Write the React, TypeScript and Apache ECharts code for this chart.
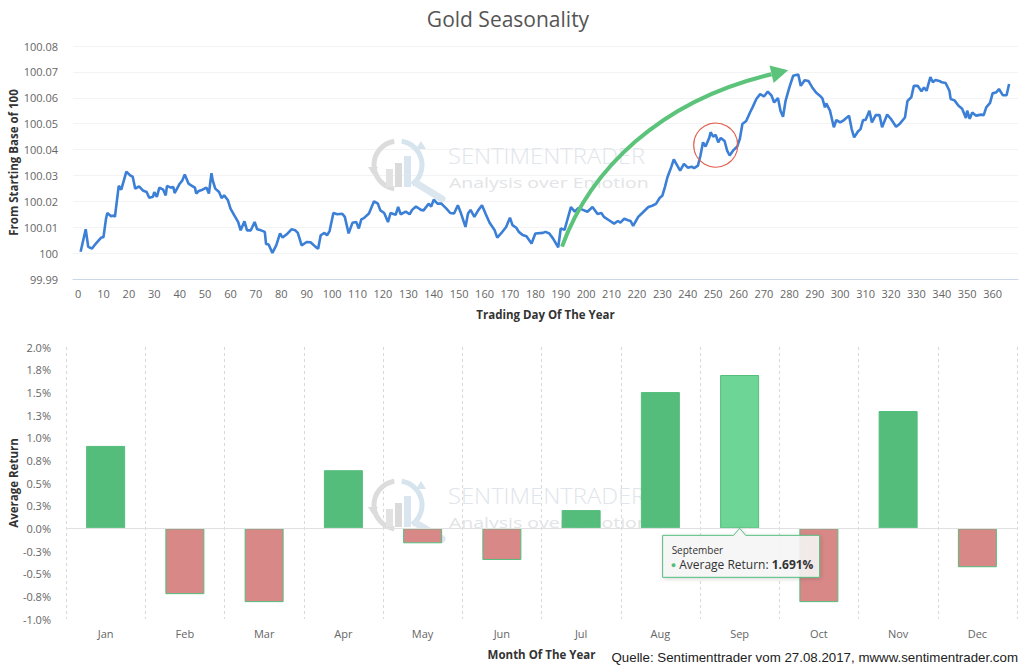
import React, { useEffect, useRef } from "react";
import * as echarts from "echarts";

const chartTitle = "Gold Seasonality";

const tradingDays = [
  1, 3, 4, 5.5, 7, 9, 10, 11, 11.5, 13, 14, 14.5, 16, 17, 19, 20.5, 21.5, 22.5, 24, 25.5,
  27, 28, 29.5, 30, 31, 32, 33.5, 34.5, 35, 36.5, 37.5, 38, 40, 41, 42, 43.5, 44.5, 46, 46.5, 47.5,
  49, 50.5, 51.5, 52.5, 53, 54, 55.5, 56.5, 57.5, 59, 60, 61.5, 63, 64, 65.5, 66.5, 68, 69.5, 70.5, 72,
  73.5, 74, 75, 76.5, 78, 79.5, 80.5, 82.5, 84, 85.5, 86.5, 88, 90, 91.5, 93.5, 94.5, 95.5, 97, 98, 99,
  100.5, 102, 104, 105, 106.5, 108, 109.5, 110.5, 111.5, 112.5, 114.5, 116.5, 118, 119, 120.5, 122, 123, 125, 126, 127,
  129, 130.5, 131.5, 133, 135, 136, 138, 139, 140, 141.5, 143, 145, 146.5, 148, 149.5, 150.5, 152.5, 153.5, 154.5, 156,
  157.5, 159, 160.5, 162, 164, 165, 166.5, 168.5, 170, 171, 172.5, 173.5, 175, 176.5, 178.5, 180, 183, 184, 185.5, 187,
  189, 190, 191.5, 194, 195.5, 197, 198.5, 200.5, 202.5, 204.5, 206, 207, 209, 211, 212.5, 213.5, 215, 216.5, 217.5, 218.5,
  220.5, 222.5, 224.5, 226, 227.5, 229, 230, 231, 232, 233.5, 234.5, 235.5, 237, 238.5, 240, 241.5, 242.5, 244, 245, 246,
  247, 248.5, 249, 250, 251, 252, 253, 254.5, 255.5, 256.5, 258, 259.5, 260.5, 261.5, 263, 264.5, 265.5, 267, 268.5, 270,
  271.5, 273, 274, 275.5, 276.5, 277.5, 278.5, 280, 281.5, 283.5, 284.5, 286, 287.5, 289, 290.5, 292, 293, 294, 294.5, 296,
  297.5, 298.5, 300, 301.5, 303.5, 304.5, 305.5, 307, 308, 309, 310, 311.5, 312.5, 314, 315.5, 316.5, 318.5, 320, 322, 323.5,
  325.5, 326.5, 328, 329, 330.5, 332, 333, 334, 335.5, 336.5, 337.5, 339, 340, 341.5, 343, 343.5, 345, 346.5, 348, 349.5,
  350, 351, 352, 353.5, 355.5, 356.5, 357.5, 359, 360, 361.5, 362.5, 364, 365.5, 366.5,
];

const goldIndex = [
  100.0005, 100.0092, 100.0024, 100.0018, 100.0037, 100.0059, 100.0062, 100.0133, 100.0155, 100.0142, 100.0145, 100.014, 100.026, 100.0245, 100.0315, 100.03, 100.0295, 100.0249, 100.0258, 100.0242,
  100.0236, 100.0214, 100.0218, 100.0236, 100.0217, 100.0253, 100.0245, 100.0223, 100.026, 100.0253, 100.0255, 100.0232, 100.0268, 100.028, 100.0304, 100.0268, 100.0262, 100.0253, 100.023, 100.024,
  100.0245, 100.0253, 100.023, 100.0309, 100.0281, 100.0249, 100.0236, 100.0213, 100.0223, 100.0204, 100.0172, 100.0146, 100.0121, 100.0088, 100.0123, 100.0088, 100.0088, 100.012, 100.0092, 100.0088,
  100.0082, 100.0035, 100.0033, 100.0001, 100.003, 100.0076, 100.006, 100.0076, 100.0092, 100.0088, 100.0078, 100.003, 100.0043, 100.0042, 100.0024, 100.0017, 100.0069, 100.0078, 100.0069, 100.0085,
  100.0155, 100.015, 100.0152, 100.014, 100.0076, 100.0117, 100.012, 100.0095, 100.013, 100.0135, 100.0153, 100.02, 100.0191, 100.0165, 100.0155, 100.012, 100.0155, 100.0148, 100.0178, 100.015,
  100.016, 100.015, 100.0167, 100.018, 100.0167, 100.0165, 100.0191, 100.018, 100.0206, 100.0191, 100.0191, 100.0172, 100.0155, 100.0153, 100.0185, 100.016, 100.0101, 100.0153, 100.0167, 100.014,
  100.0165, 100.0185, 100.015, 100.0117, 100.0088, 100.006, 100.0076, 100.0101, 100.0137, 100.0108, 100.0098, 100.0082, 100.007, 100.0065, 100.0037, 100.0076, 100.0078, 100.0082, 100.0076, 100.0056,
  100.0022, 100.0095, 100.009, 100.0178, 100.016, 100.0175, 100.0168, 100.016, 100.0178, 100.0151, 100.0155, 100.014, 100.0127, 100.0114, 100.0124, 100.0118, 100.0133, 100.0127, 100.0124, 100.0105,
  100.014, 100.0159, 100.0178, 100.0183, 100.019, 100.0214, 100.0222, 100.0255, 100.0293, 100.0332, 100.0362, 100.0345, 100.0319, 100.0345, 100.033, 100.0334, 100.0328, 100.0338, 100.0377, 100.0428,
  100.0412, 100.0447, 100.0467, 100.045, 100.0457, 100.0428, 100.0445, 100.0433, 100.0396, 100.0377, 100.0398, 100.0412, 100.0441, 100.0499, 100.051, 100.0543, 100.0563, 100.0595, 100.0614, 100.0605,
  100.0624, 100.0608, 100.0582, 100.0599, 100.055, 100.0527, 100.0588, 100.064, 100.0685, 100.069, 100.0646, 100.0668, 100.0665, 100.064, 100.062, 100.0608, 100.0598, 100.0563, 100.0578, 100.055,
  100.0486, 100.0514, 100.0505, 100.0514, 100.0531, 100.048, 100.0447, 100.047, 100.0479, 100.0514, 100.0514, 100.055, 100.0505, 100.0533, 100.0533, 100.0486, 100.0535, 100.0518, 100.0488, 100.05,
  100.0524, 100.0588, 100.0602, 100.0646, 100.0646, 100.0625, 100.064, 100.0627, 100.068, 100.066, 100.0669, 100.0665, 100.066, 100.0657, 100.0627, 100.0595, 100.059, 100.057, 100.0558, 100.0522,
  100.055, 100.0519, 100.0543, 100.0531, 100.0535, 100.0533, 100.0563, 100.058, 100.0617, 100.0621, 100.0634, 100.061, 100.061, 100.0653,
];

const dayTicks = [0, 10, 20, 30, 40, 50, 60, 70, 80, 90, 100, 110, 120, 130, 140, 150, 160, 170, 180, 190, 200, 210, 220, 230, 240, 250, 260, 270, 280, 290, 300, 310, 320, 330, 340, 350, 360];

const months = ["Jan", "Feb", "Mar", "Apr", "May", "Jun", "Jul", "Aug", "Sep", "Oct", "Nov", "Dec"];
const monthNames = ["January", "February", "March", "April", "May", "June", "July", "August", "September", "October", "November", "December"];
const monthlyReturns = [0.909, -0.726, -0.814, 0.641, -0.165, -0.349, 0.201, 1.503, 1.691, -0.814, 1.294, -0.429];
const highlightedMonth = 8;

// annotation anchors, in data units of the upper chart
const arrowPath = [
  [190.5, 100.0025],
  [201.5, 100.032],
  [229, 100.059],
  [273, 100.0691],
];
const circledPoint = [251, 100.0417];

const sourceNote = "Quelle: Sentimenttrader vom 27.08.2017, mwww.sentimentrader.com";

const FONT = "'Open Sans', 'Noto Sans', sans-serif";
const GREEN = "#55bd7c";
const GREEN_HOVER = "#6dd595";
const RED = "#d98888";

function watermark(x: number, y: number) {
  return {
    type: "group",
    x,
    y,
    silent: true,
    z: 0,
    children: [
      { type: "arc", shape: { cx: 0, cy: 0, r: 24, startAngle: Math.PI * 0.55, endAngle: Math.PI * 1.45 }, style: { stroke: "#dcdcdc", lineWidth: 5, fill: "none" } },
      { type: "arc", shape: { cx: 0, cy: 0, r: 24, startAngle: Math.PI * 1.55, endAngle: Math.PI * 2.3 }, style: { stroke: "#d6e4ee", lineWidth: 5, fill: "none" } },
      { type: "polygon", shape: { points: [[-30, 2], [-20, 2], [-25, 10]] }, style: { fill: "#dcdcdc" } },
      { type: "polygon", shape: { points: [[18, -16], [28, -16], [23, -24]] }, style: { fill: "#d6e4ee" } },
      { type: "rect", shape: { x: -12, y: 4, width: 7, height: 18 }, style: { fill: "#e2e2e2" } },
      { type: "rect", shape: { x: -3, y: -2, width: 7, height: 24 }, style: { fill: "#dadada" } },
      { type: "rect", shape: { x: 6, y: -9, width: 7, height: 31 }, style: { fill: "#d9e6ef" } },
      { type: "line", shape: { x1: 18, y1: 18, x2: 44, y2: 34 }, style: { stroke: "#dbe6ee", lineWidth: 7, lineCap: "round" } },
      { type: "text", x: 50, y: -9, scaleX: 1.08, style: { text: "SENTIMENTRADER", font: `300 22px ${FONT}`, fill: "#dfe5eb", verticalAlign: "middle" } },
      { type: "text", x: 51, y: 17, scaleX: 1.3, style: { text: "Analysis over Emotion", font: `400 15px ${FONT}`, fill: "#e2e4e6", verticalAlign: "middle" } },
    ],
  };
}

export default function App() {
  const ref = useRef<HTMLDivElement>(null);

  useEffect(() => {
    document.body.style.margin = "0";
    const el = ref.current;
    if (!el) return;
    const chart = echarts.init(el, null, { renderer: "svg" });

    const lineData = tradingDays.map((d, i) => [d, goldIndex[i]]);
    const barData = monthlyReturns.map((v, i) => ({
      value: v,
      itemStyle: {
        color: i === highlightedMonth ? GREEN_HOVER : v >= 0 ? GREEN : RED,
        borderColor: GREEN,
        borderWidth: 1,
      },
    }));

    const axisName = { fontFamily: FONT, fontSize: 11.5, fontWeight: "bold", color: "#333" };

    const option: any = {
      animation: false,
      backgroundColor: "#ffffff",
      textStyle: { fontFamily: FONT },
      title: {
        text: chartTitle,
        left: 503,
        textAlign: "center",
        top: 3,
        textStyle: { fontFamily: FONT, fontSize: 21, fontWeight: "normal", color: "#555555" },
      },
      grid: [
        { left: 73, top: 46, width: 945, height: 233, outerBoundsMode: "none", containLabel: false },
        { left: 66, top: 347, width: 951, height: 272, outerBoundsMode: "none", containLabel: false },
      ],
      xAxis: [
        {
          type: "value",
          gridIndex: 0,
          min: -2,
          max: 370,
          name: "Trading Day Of The Year",
          nameLocation: "middle",
          nameGap: 29,
          nameMoveOverlap: false,
          nameTextStyle: axisName,
          axisLine: { show: true, lineStyle: { color: "#ccd6eb", width: 1 } },
          axisTick: { show: false },
          splitLine: { show: false },
          axisLabel: { customValues: dayTicks, color: "#666", fontSize: 11, fontFamily: FONT, margin: 9 },
        },
        {
          type: "category",
          gridIndex: 1,
          data: months,
          name: "Month Of The Year",
          nameLocation: "middle",
          nameGap: 29,
          nameMoveOverlap: false,
          nameTextStyle: axisName,
          axisLine: { show: false },
          axisTick: { show: false },
          axisLabel: { color: "#666", fontSize: 11, fontFamily: FONT, margin: 9 },
          splitLine: { show: true, lineStyle: { color: "#d9d9d9", type: [3, 3], width: 1 } },
        },
      ],
      yAxis: [
        {
          type: "value",
          gridIndex: 0,
          min: 99.99,
          max: 100.08,
          interval: 0.01,
          name: "From Starting Base of 100",
          nameLocation: "middle",
          nameGap: 54,
          nameMoveOverlap: false,
          nameTextStyle: axisName,
          axisLine: { show: false },
          axisTick: { show: false },
          splitLine: { show: true, lineStyle: { color: "#f3f3f3", width: 1 } },
          axisLabel: {
            color: "#666",
            fontSize: 11,
            fontFamily: FONT,
            margin: 15,
            formatter: (v: number) => String(parseFloat(v.toFixed(2))),
          },
        },
        {
          type: "value",
          gridIndex: 1,
          min: -1,
          max: 2,
          interval: 0.25,
          name: "Average Return",
          nameLocation: "middle",
          nameGap: 47,
          nameMoveOverlap: false,
          nameTextStyle: axisName,
          axisLine: { show: false },
          axisTick: { show: false },
          splitLine: { show: false },
          axisLabel: {
            color: "#666",
            fontSize: 11,
            fontFamily: FONT,
            margin: 15,
            formatter: (v: number) => v.toFixed(1) + "%",
          },
        },
      ],
      series: [
        {
          type: "line",
          xAxisIndex: 0,
          yAxisIndex: 0,
          data: lineData,
          showSymbol: false,
          symbol: "none",
          lineStyle: { color: "#3b7fd6", width: 2.6 },
          z: 3,
        },
        {
          type: "bar",
          xAxisIndex: 1,
          yAxisIndex: 1,
          data: barData,
          barWidth: 39,
          z: 2,
          markLine: {
            silent: true,
            symbol: "none",
            label: { show: false },
            lineStyle: { color: "#e0e0e0", type: "solid", width: 1 },
            data: [{ yAxis: 0 }],
          },
        },
      ],
    };

    chart.setOption(option);

    const px = (pt: number[]) => chart.convertToPixel({ gridIndex: 0 }, pt) as number[];
    const [a0, a1, a2, a3] = arrowPath.map(px);
    const tx = a3[0] - a2[0];
    const ty = a3[1] - a2[1];
    const tl = Math.hypot(tx, ty);
    const ux = tx / tl;
    const uy = ty / tl;
    const nx = -uy;
    const ny = ux;
    const tip = [a3[0] + ux * 17, a3[1] + uy * 17];
    const baseL = [a3[0] + nx * 9, a3[1] + ny * 9];
    const baseR = [a3[0] - nx * 9, a3[1] - ny * 9];

    const cp = px(circledPoint);

    const bar = chart.convertToPixel({ gridIndex: 1 }, [months[highlightedMonth], 0]) as number[];
    const bx = bar[0];
    const by = bar[1];
    const boxTop = by + 7;
    const boxL = bx - 77;
    const boxR = bx + 80;
    const boxB = boxTop + 42;

    chart.setOption({
      graphic: [
        watermark(398, 165),
        watermark(398, 505),
        {
          type: "bezierCurve",
          silent: true,
          z: 10,
          shape: { x1: a0[0], y1: a0[1], cpx1: a1[0], cpy1: a1[1], cpx2: a2[0], cpy2: a2[1], x2: a3[0], y2: a3[1] },
          style: { stroke: "#5cc47a", lineWidth: 4, fill: "none" },
        },
        {
          type: "polygon",
          silent: true,
          z: 10,
          shape: { points: [tip, baseL, baseR] },
          style: { fill: "#5cc47a" },
        },
        {
          type: "circle",
          silent: true,
          z: 10,
          shape: { cx: cp[0], cy: cp[1], r: 22 },
          style: { stroke: "#e0604f", lineWidth: 1.2, fill: "none" },
        },
        {
          type: "polygon",
          silent: true,
          z: 20,
          shape: {
            points: [
              [boxL, boxTop],
              [bx - 6, boxTop],
              [bx, by],
              [bx + 6, boxTop],
              [boxR, boxTop],
              [boxR, boxB],
              [boxL, boxB],
            ],
          },
          style: {
            fill: "rgba(247,247,247,0.88)",
            stroke: GREEN,
            lineWidth: 1,
            shadowBlur: 4,
            shadowColor: "rgba(0,0,0,0.18)",
            shadowOffsetX: 1,
            shadowOffsetY: 1,
          },
        },
        {
          type: "text",
          silent: true,
          z: 21,
          x: boxL + 9,
          y: boxTop + 15,
          style: { text: monthNames[highlightedMonth], font: `10px ${FONT}`, fill: "#333", verticalAlign: "middle" },
        },
        {
          type: "text",
          silent: true,
          z: 21,
          x: boxL + 8,
          y: boxTop + 29,
          style: {
            text: `{d|●} Average Return: {b|${monthlyReturns[highlightedMonth].toFixed(3)}%}`,
            font: `12px ${FONT}`,
            fill: "#333",
            verticalAlign: "middle",
            rich: {
              d: { fill: GREEN, fontSize: 9, fontFamily: FONT },
              b: { fontWeight: "bold", fontSize: 12, fontFamily: FONT, fill: "#333" },
            },
          },
        },
        {
          type: "text",
          silent: true,
          z: 21,
          x: 1018,
          y: 657,
          style: {
            text: sourceNote,
            font: `13.3px 'Liberation Sans', Arial, sans-serif`,
            fill: "#222",
            align: "right",
            verticalAlign: "middle",
          },
        },
      ],
    });

    return () => chart.dispose();
  }, []);

  return <div ref={ref} style={{ width: 1024, height: 667 }} />;
}
